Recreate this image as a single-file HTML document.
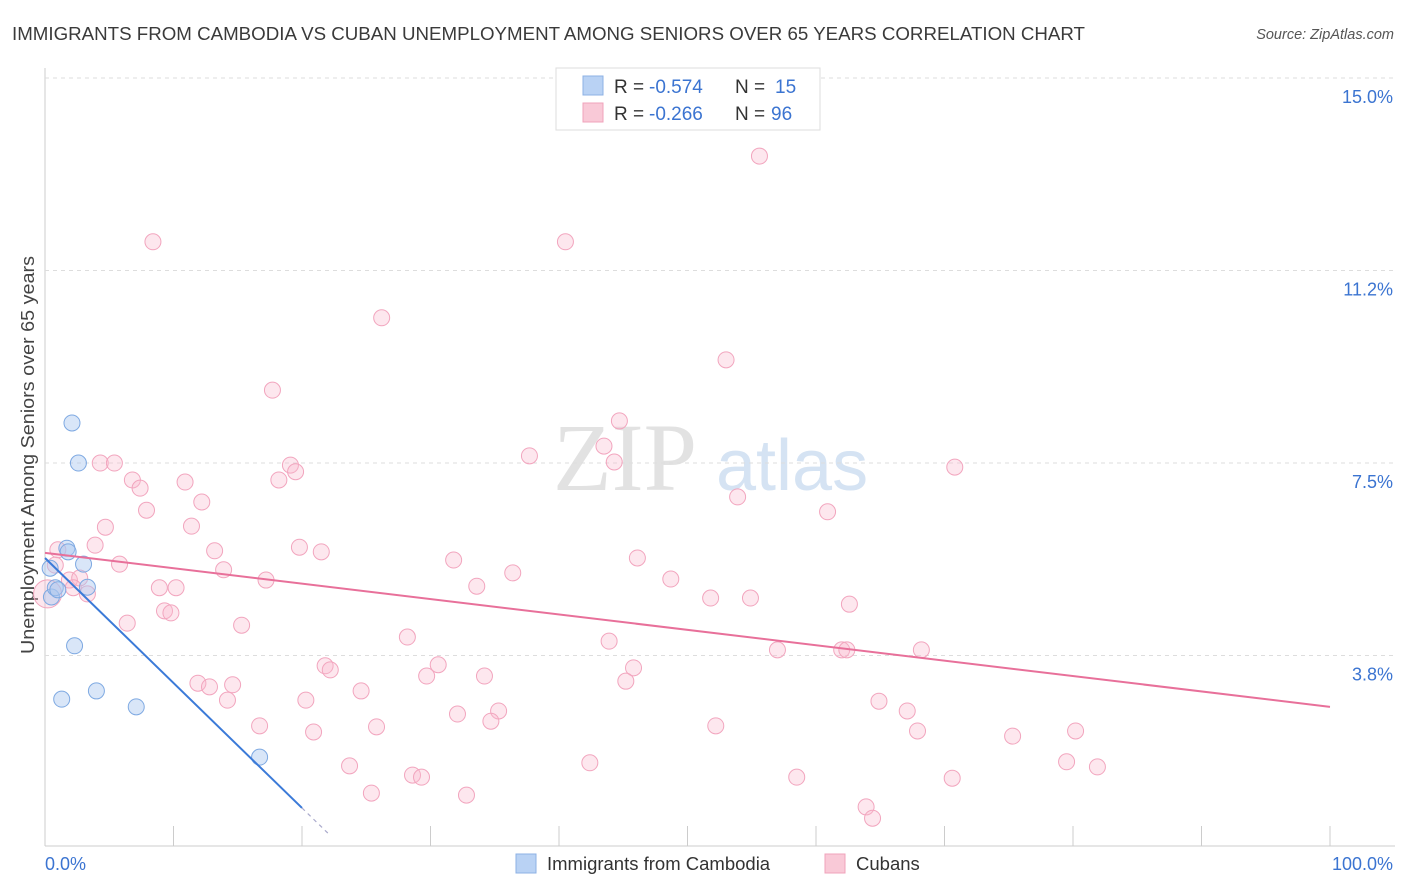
<!DOCTYPE html>
<html><head><meta charset="utf-8"><style>
body{margin:0;background:#fff;font-family:"Liberation Sans",sans-serif;}
#wrap{position:relative;width:1406px;height:892px;overflow:hidden;}
</style></head><body>
<div id="wrap">
<svg id="svg" width="1406" height="892" xmlns="http://www.w3.org/2000/svg" font-family="Liberation Sans, sans-serif">
<text x="12" y="40" font-size="18" fill="#3a3a3a" textLength="1073" lengthAdjust="spacingAndGlyphs">IMMIGRANTS FROM CAMBODIA VS CUBAN UNEMPLOYMENT AMONG SENIORS OVER 65 YEARS CORRELATION CHART</text>
<text x="1394" y="39" font-size="14.5" fill="#555" font-style="italic" text-anchor="end">Source: ZipAtlas.com</text>
<text x="553" y="490" font-size="96" fill="#e2e2e2" font-family="Liberation Serif, serif">ZIP</text>
<text x="716" y="490" font-size="72" fill="#d5e3f3">atlas</text>
<text transform="translate(34,455) rotate(-90)" font-size="18" fill="#444" text-anchor="middle" textLength="398" lengthAdjust="spacingAndGlyphs">Unemployment Among Seniors over 65 years</text>
<g id="grid"></g><g id="marks"></g>
<g>
<rect x="556" y="68" width="264" height="62" fill="#fff" stroke="#ddd"/>
<rect x="583" y="76" width="20" height="19" fill="#b9d2f4" stroke="#8db1e4"/>
<rect x="583" y="103" width="20" height="19" fill="#f9c9d7" stroke="#f0a3bb"/>
<text x="614" y="93" font-size="19" fill="#333">R =</text>
<text x="649" y="93" font-size="19" fill="#3b74d1">-0.574</text>
<text x="735" y="93" font-size="19" fill="#333">N =</text>
<text x="775" y="93" font-size="19" fill="#3b74d1">15</text>
<text x="614" y="120" font-size="19" fill="#333">R =</text>
<text x="649" y="120" font-size="19" fill="#3b74d1">-0.266</text>
<text x="735" y="120" font-size="19" fill="#333">N =</text>
<text x="771" y="120" font-size="19" fill="#3b74d1">96</text>
</g>
<g>
<rect x="516" y="854" width="20" height="19" fill="#b9d2f4" stroke="#8db1e4"/>
<text x="547" y="870" font-size="18.5" fill="#333">Immigrants from Cambodia</text>
<rect x="825" y="854" width="20" height="19" fill="#f9c9d7" stroke="#f0a3bb"/>
<text x="856" y="870" font-size="18.5" fill="#333">Cubans</text>
</g>
</svg></div>
<script>
const yTicks=[3.75,7.5,11.25,15];
const yTickLabels=["3.8%","7.5%","11.2%","15.0%"];
const xTickLabels=["0.0%","100.0%"];
const blueX=[0.5,0.8,1.0,1.7,1.8,3.0,3.3,2.1,2.6,2.3,1.3,4.0,7.1,16.7,0.4];
const blueY=[4.89,5.07,5.03,5.84,5.77,5.53,5.08,8.28,7.50,3.94,2.90,3.06,2.75,1.77,5.45];
const pinkX=[8.4,40.5,55.6,26.2,53.0,17.7,44.7,43.5,44.3,37.7,70.8,4.3,5.4,19.1,19.5,18.2,6.8,7.4,10.9,12.2,7.9,53.9,60.9,4.7,11.4,3.9,13.2,19.8,21.5,31.8,46.1,5.8,13.9,1.0,0.8,1.9,2.7,17.2,36.4,48.7,33.6,8.9,10.2,3.3,2.2,51.8,54.9,62.6,9.3,9.8,6.4,15.3,28.2,43.9,57.0,62.0,62.4,68.2,30.6,21.8,22.2,45.8,29.7,34.2,45.2,11.9,12.8,14.6,24.6,20.3,14.2,64.9,67.1,32.1,35.3,34.7,25.8,16.7,52.2,20.9,67.9,75.3,80.2,23.7,42.4,28.6,29.3,58.5,79.5,81.9,70.6,25.4,32.8,63.9,64.4,0.2];
const pinkY=[11.81,11.81,13.48,10.33,9.51,8.92,8.32,7.83,7.52,7.64,7.42,7.50,7.50,7.46,7.33,7.17,7.17,7.01,7.13,6.74,6.58,6.84,6.55,6.25,6.27,5.90,5.79,5.86,5.77,5.61,5.65,5.53,5.42,5.81,5.51,5.22,5.26,5.22,5.36,5.24,5.10,5.07,5.07,4.95,5.07,4.87,4.87,4.75,4.62,4.58,4.38,4.34,4.11,4.03,3.86,3.86,3.86,3.86,3.57,3.55,3.47,3.51,3.35,3.35,3.25,3.21,3.14,3.18,3.06,2.88,2.88,2.86,2.67,2.61,2.67,2.47,2.36,2.38,2.38,2.26,2.28,2.18,2.28,1.60,1.66,1.42,1.38,1.38,1.68,1.58,1.36,1.07,1.03,0.80,0.58,4.95];
const blueTrend=[5.65,0.78];
const pinkTrend=[5.75,2.75];
const xs=v=>45+v*12.85, ys=v=>848-v*51.33;
const NS="http://www.w3.org/2000/svg";
const grid=document.getElementById('grid'), marks=document.getElementById('marks');
function mk(tag,attrs,parent){const e=document.createElementNS(NS,tag);for(const k in attrs)e.setAttribute(k,attrs[k]);parent.appendChild(e);return e;}
let ax=mk('line',{x1:45,y1:68,x2:45,y2:846,stroke:'#ccc'},grid);


let bx=mk('line',{x1:45,y1:846,x2:1395,y2:846,stroke:'#ccc'},grid);


yTicks.forEach((t,i)=>{
 const g=mk('line',{x1:45,x2:1395,y1:ys(t),y2:ys(t),stroke:'#ddd','stroke-dasharray':'4,4'},grid);
 
 
 const l=mk('text',{x:1393,y:ys(t)+25,'font-size':18,fill:'#3b74d1','text-anchor':'end'},grid);
 l.textContent=yTickLabels[i];
 
 
});
for(let i=1;i<=10;i++){
 const t=mk('line',{x1:xs(i*10),x2:xs(i*10),y1:826,y2:846,stroke:'#ccc'},grid);
 
 
}
[[0,45,'start'],[100,1393,'end']].forEach((d,i)=>{
 const l=mk('text',{x:d[1],y:870,'font-size':18,fill:'#3b74d1','text-anchor':d[2]},grid);
 l.textContent=xTickLabels[i];
 
 
});
pinkX.forEach((x,i)=>{
 const c=mk('circle',{cx:xs(x),cy:ys(pinkY[i]),r:i==pinkX.length-1?14:8,fill:'rgba(248,185,205,0.35)',stroke:'#f2a5be','stroke-width':1},marks);
 
 
});
blueX.forEach((x,i)=>{
 const c=mk('circle',{cx:xs(x),cy:ys(blueY[i]),r:8,fill:'rgba(170,200,240,0.45)',stroke:'#7ea9e2','stroke-width':1},marks);
 
 
});
let pl=mk('line',{x1:xs(0),y1:ys(pinkTrend[0]),x2:xs(100),y2:ys(pinkTrend[1]),stroke:'#e8709a','stroke-width':2},marks);


const slope=(blueTrend[1]-blueTrend[0])/20;
let bl=mk('line',{x1:xs(0),y1:ys(blueTrend[0]),x2:xs(20),y2:ys(blueTrend[1]),stroke:'#3b7ad8','stroke-width':2},marks);


let bd=mk('line',{x1:xs(20),y1:ys(blueTrend[1]),x2:xs(22.2),y2:ys(blueTrend[0]+slope*22.2),stroke:'#aac','stroke-width':1.2,'stroke-dasharray':'4,4'},marks);


</script>
</body></html>
